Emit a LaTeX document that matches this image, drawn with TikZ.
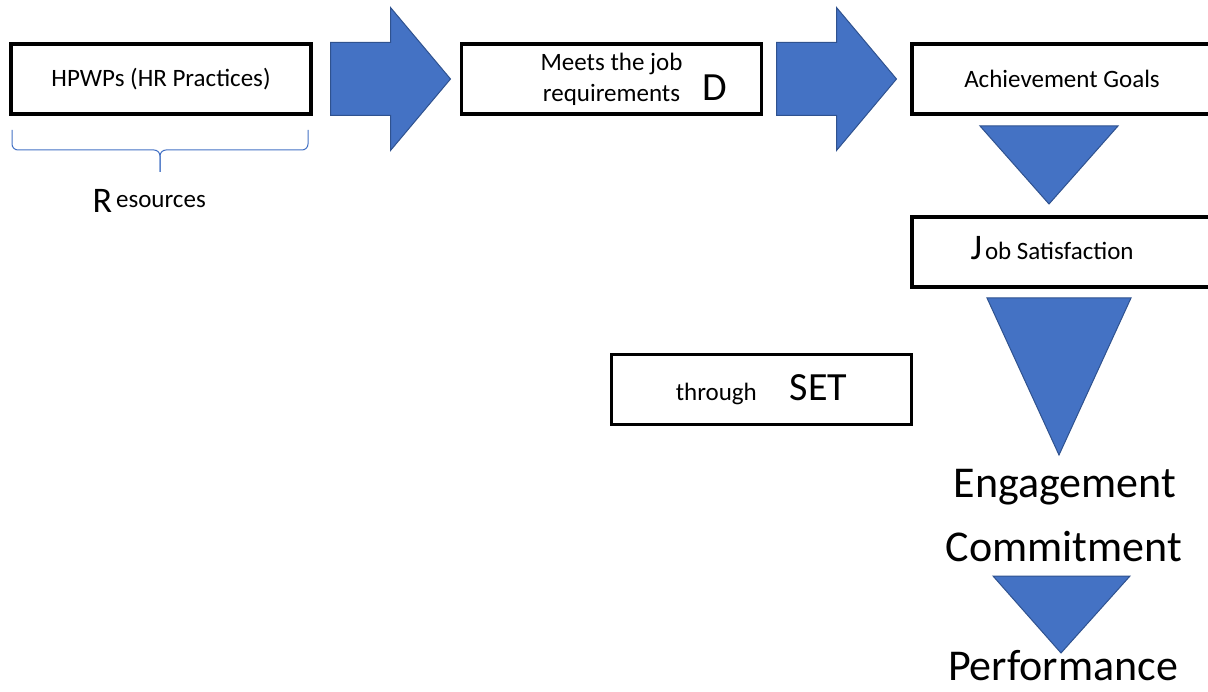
\documentclass[tikz,border=0pt]{standalone}
\usepackage{fontspec}
\setmainfont{Carlito}
\usetikzlibrary{shapes.arrows}
\definecolor{wordblue}{HTML}{4472C4}
\definecolor{wordedge}{HTML}{2F528F}
\newcommand{\bigletter}[1]{{\fontsize{40}{40}\selectfont #1}}

\begin{document}
\begin{tikzpicture}[
        x=1pt, y=-1pt,
        font=\fontsize{25}{31}\selectfont,
        stage/.style={draw, line width=3.5pt, minimum width=300pt, minimum height=70pt, inner sep=0pt, align=center},
        blockarrow/.style={single arrow, fill=wordblue, draw=wordedge, line width=1pt, minimum width=142pt, minimum height=120pt, single arrow head extend=35pt, single arrow tip angle=100, inner xsep=0pt, inner ysep=36pt, anchor=tail},
        funnel/.style={fill=wordblue, draw=wordedge, line width=1pt},
        outcome/.style={font=\fontsize{44}{44}\selectfont, anchor=base, inner sep=0pt}
    ]
        \clip (0, 0) rectangle (1208, 692);
        % top row
        \node[stage] (hpwp) at (161, 79) {HPWPs (HR Practices)};
        \node[blockarrow] (arrowa) at (330, 79) {};
        \node[stage] (jobreq) at (611.5, 79) {Meets the job\\requirements};
        \node[anchor=base] (dmark) at (715, 101) {\bigletter{D}};
        \node[blockarrow] (arrowb) at (776, 79) {};
        \node[stage] (goals) at (1062, 79) {Achievement Goals};
        % brace under the practices
        \draw[wordblue, line width=1pt, rounded corners=6pt] (12, 130) |- (160, 150) -- (160, 172);
        \draw[wordblue, line width=1pt, rounded corners=6pt] (308, 130) |- (160, 150) -- (160, 172);
        \node[anchor=base west] (resources) at (89, 213) {{\fontsize{36}{36}\selectfont R}\hspace{4pt}\raisebox{5pt}{esources}};
        % right column
        \draw[funnel] (980, 126) -- (1118, 126) -- (1049, 204) -- cycle;
        \node[stage] (jobsat) at (1062, 252) {};
        \node[anchor=base west] (jobtext) at (967, 260) {{\fontsize{36}{36}\selectfont J}\hspace{3pt}ob Satisfaction};
        \draw[funnel] (987, 298) -- (1131, 298) -- (1059, 455) -- cycle;
        \node[stage] (set) at (761.5, 389.5) {through\hspace{33pt}\bigletter{SET}};
        \node[outcome] (engage) at (1065, 497) {Engagement};
        \node[outcome] (commit) at (1064, 561) {Commitment};
        \draw[funnel] (993, 576) -- (1130, 576) -- (1061, 653) -- cycle;
        \node[outcome] (perform) at (1063, 680) {Performance};
    \end{tikzpicture}
\end{document}
